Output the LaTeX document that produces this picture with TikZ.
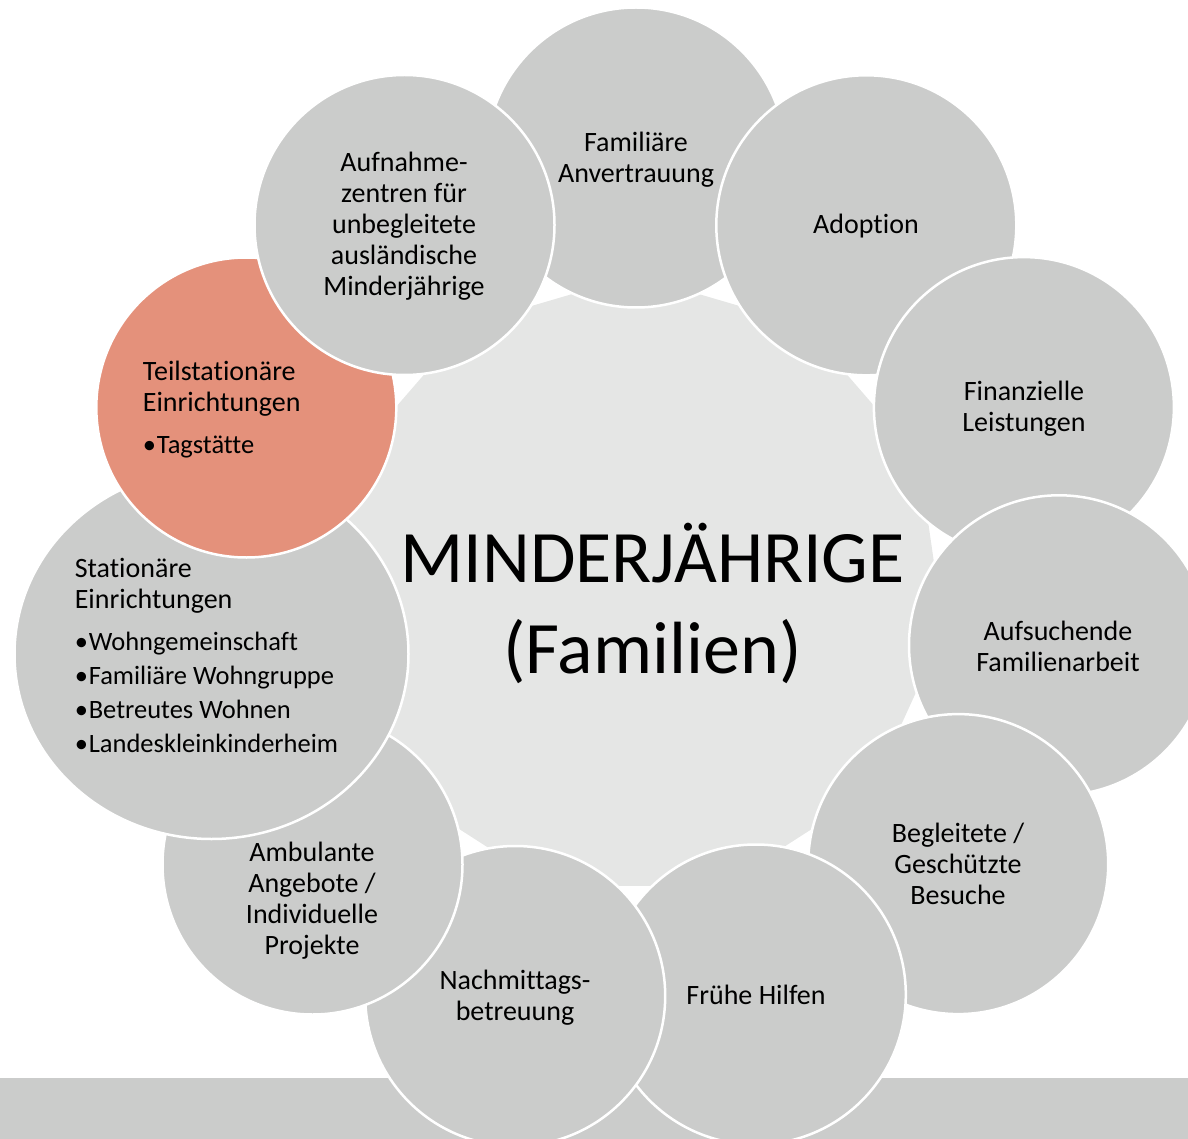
\documentclass[tikz,border=0pt]{standalone}
\usepackage{fontspec}
\usetikzlibrary{shapes.geometric}
\setmainfont{Carlito}[Ligatures={NoCommon}]
\definecolor{cgray}{HTML}{CBCCCB}
\definecolor{cmid}{HTML}{E5E6E5}
\definecolor{corange}{HTML}{E4917B}
\tikzset{
  ring/.style={circle, fill=cgray, draw=white, line width=2.5pt, minimum size=300pt, inner sep=0pt},
  hot/.style={ring, fill=corange},
  lbl/.style={font=\fontsize{28}{31}\selectfont, align=center, inner sep=0pt, text=black},
  lbll/.style={lbl, align=left, anchor=north west},
  big/.style={font=\fontsize{74}{91}\selectfont, align=center, inner sep=0pt, text=black},
}
\newcommand\bul[1]{{\fontsize{26.5}{31}\selectfont\makebox[14pt][l]{\textbullet}#1}}
\begin{document}
\begin{tikzpicture}[x=1pt,y=-1pt]
\useasboundingbox (0,0) rectangle (1188,1139);
\clip (0,0) rectangle (1188,1139);
% bottom band
\fill[cgray] (0,1078) rectangle (1188,1139);
% central polygon
\fill[cmid] plot[samples at={0,...,21}, variable=\k] ({635.5+302*cos(\k*360/22)},{587+302*sin(\k*360/22)}) -- cycle;
% ring of circles (each on top of the previous)
\node[ring] (c1) at (636,157.5) {};
\node[ring] (c2) at (866.3,225.3) {};
\node[ring] (c3) at (1023.9,407.1) {};
\node[ring] (c4) at (1059,645.3) {};
\node[ring] (c5) at (958.2,864.1) {};
\node[ring] (c6) at (755.8,994.5) {};
\node[ring] (c7) at (515.2,996) {};
\node[ring] (c8) at (312.5,864.5) {};
\node[ellipse, fill=cgray, draw=white, line width=2.5pt, minimum width=394pt, minimum height=370pt, inner sep=0pt] (c9) at (211.5,654) {};
\node[hot] (c10) at (246.3,407.5) {};
\node[ring] (c11) at (404.5,225) {};
% texts
\node[lbl] (t1) at (636,160.5) {\strut Familiäre\\\strut Anvertrauung};
\node[lbl] (t2) at (866,227) {\strut Adoption};
\node[lbl] (t3) at (1024,410) {\strut Finanzielle\\\strut Leistungen};
\node[lbl] (t4) at (1058,649.5) {\strut Aufsuchende\\\strut Familienarbeit};
\node[lbl] (t5) at (958,867.5) {\strut Begleitete /\\\strut Geschützte\\\strut Besuche};
\node[lbl] (t6) at (756,998) {\strut Frühe Hilfen};
\node[lbl] (t7) at (515,998.5) {\strut Nachmittags-\\\strut betreuung};
\node[lbl] (t8) at (312,902) {\strut Ambulante\\\strut Angebote /\\\strut Individuelle\\\strut Projekte};
\node[lbll] (t9) at (74.6,555.3) {\strut Stationäre\\\strut Einrichtungen\\[11pt]\strut\bul{Wohngemeinschaft}\\[3pt]\strut\bul{Familiäre Wohngruppe}\\[3pt]\strut\bul{Betreutes Wohnen}\\[3pt]\strut\bul{Landeskleinkinderheim}};
\node[lbll] (t10) at (142.7,358.3) {\strut Teilstationäre\\\strut Einrichtungen\\[11pt]\strut\bul{Tagstätte}};
\node[lbl] (t11) at (404,227.5) {\strut Aufnahme-\\\strut zentren für\\\strut unbegleitete\\\strut ausländische\\\strut Minderjährige};
\node[big] (ctext) at (652.5,610) {\strut MINDERJÄHRIGE\\\strut (Familien)};
\end{tikzpicture}
\end{document}
